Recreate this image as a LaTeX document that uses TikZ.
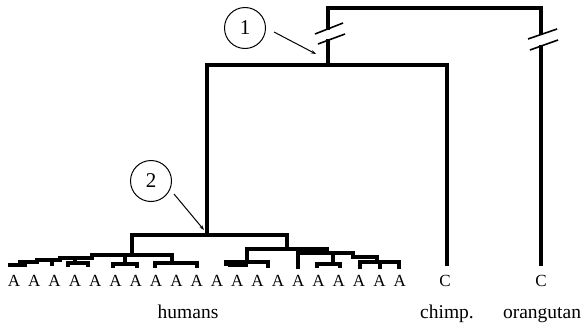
\documentclass[tikz,border=0pt]{standalone}
\usepackage{fontspec}
\setmainfont{Liberation Serif}
\usetikzlibrary{arrows.meta}
\begin{document}
\begin{tikzpicture}[x=1pt,y=-1pt,
  tree/.style={line width=3.1pt, line cap=rect, line join=miter},
  slash/.style={line width=1.6pt},
  lead/.style={line width=1pt, -{Stealth[length=5pt,width=3.5pt]}},
  circ/.style={circle, draw, line width=1pt, minimum size=41pt, inner sep=0pt, font=\fontsize{21}{21}\selectfont},
  leaf/.style={anchor=base, inner sep=0pt, font=\fontsize{17}{17}\selectfont},
  lbl/.style={anchor=base, inner sep=0pt, font=\fontsize{19.5}{20}\selectfont}]
\useasboundingbox (0,0) rectangle (585,324);
% main frame coordinates
\coordinate (tl) at (328,8);
\coordinate (tr) at (541,8);
\coordinate (hc) at (328,65);
\coordinate (hl) at (207,65);
\coordinate (cl) at (447,65);
\coordinate (cb) at (447,264);
\coordinate (ob) at (541,264);
\coordinate (hr) at (207,235);
% top split with breaks
\draw[tree] (328,28) -- (tl) -- (tr) -- (541,33.5);
\draw[tree] (328,41) -- (hc);
\draw[tree] (541,47) -- (ob);
\draw[slash] (315,34) -- (343,23);
\draw[slash] (318,44) -- (345,34);
\draw[slash] (528,39) -- (557,29);
\draw[slash] (530,50) -- (558,40);
% chimp / human split
\draw[tree] (hr) -- (hl) -- (cl) -- (cb);
% human root
\draw[tree] (132,255) -- (132,235) -- (287,235) -- (287,249);
% left subtree
\draw[tree] (92,258) -- (92,255) -- (172,255) -- (172,263);
\draw[tree] (155,266) -- (155,263) -- (197,263) -- (197,266);
\draw[tree] (125,255) -- (125,264);
\draw[tree] (113,266) -- (113,264) -- (137,264) -- (137,266);
\draw[tree] (60,260) -- (60,258) -- (92,258);
\draw[tree] (75,258) -- (75,263);
\draw[tree] (68,265) -- (68,263) -- (88,263) -- (88,265);
\draw[tree] (37,262) -- (37,260) -- (60,260);
\draw[tree] (52,260) -- (52,264);
\draw[tree] (20,264) -- (20,262) -- (37,262);
\draw[tree] (10,265) -- (25,265);
% right subtree
\draw[tree] (247,262) -- (247,249) -- (327,249) -- (327,253);
\draw[tree] (226,264) -- (226,262) -- (268,262) -- (268,266);
\draw[tree] (230,265) -- (246,265);
\draw[tree] (298,267) -- (298,253) -- (353,253) -- (353,257) -- (377,257) -- (377,262);
\draw[tree] (333,253) -- (333,264);
\draw[tree] (317,266) -- (317,264) -- (340,264) -- (340,266);
\draw[tree] (360,267) -- (360,262) -- (399,262) -- (399,267);
\draw[tree] (380,262) -- (380,267);
% circled labels and leaders
\node[circ] (c1) at (245,28) {1};
\node[circ] (c2) at (151,181) {2};
\coordinate (l1s) at (274,32);
\coordinate (l1e) at (316,54);
\coordinate (l2s) at (174,194);
\coordinate (l2e) at (204,230);
\draw[lead] (l1s) -- (l1e);
\draw[lead] (l2s) -- (l2e);
% leaf letters
\foreach \k in {0,...,19}{
  \node[leaf] (a\k) at ({14+20.3*\k},286) {A};
}
\node[leaf] (cc) at (445,286) {C};
\node[leaf] (oc) at (541,286) {C};
% group labels
\node[lbl] (hum) at (188,318) {humans};
\node[lbl] (chi) at (447,318) {chimp.};
\node[lbl] (ora) at (542,318) {orangutan};
\end{tikzpicture}
\end{document}
